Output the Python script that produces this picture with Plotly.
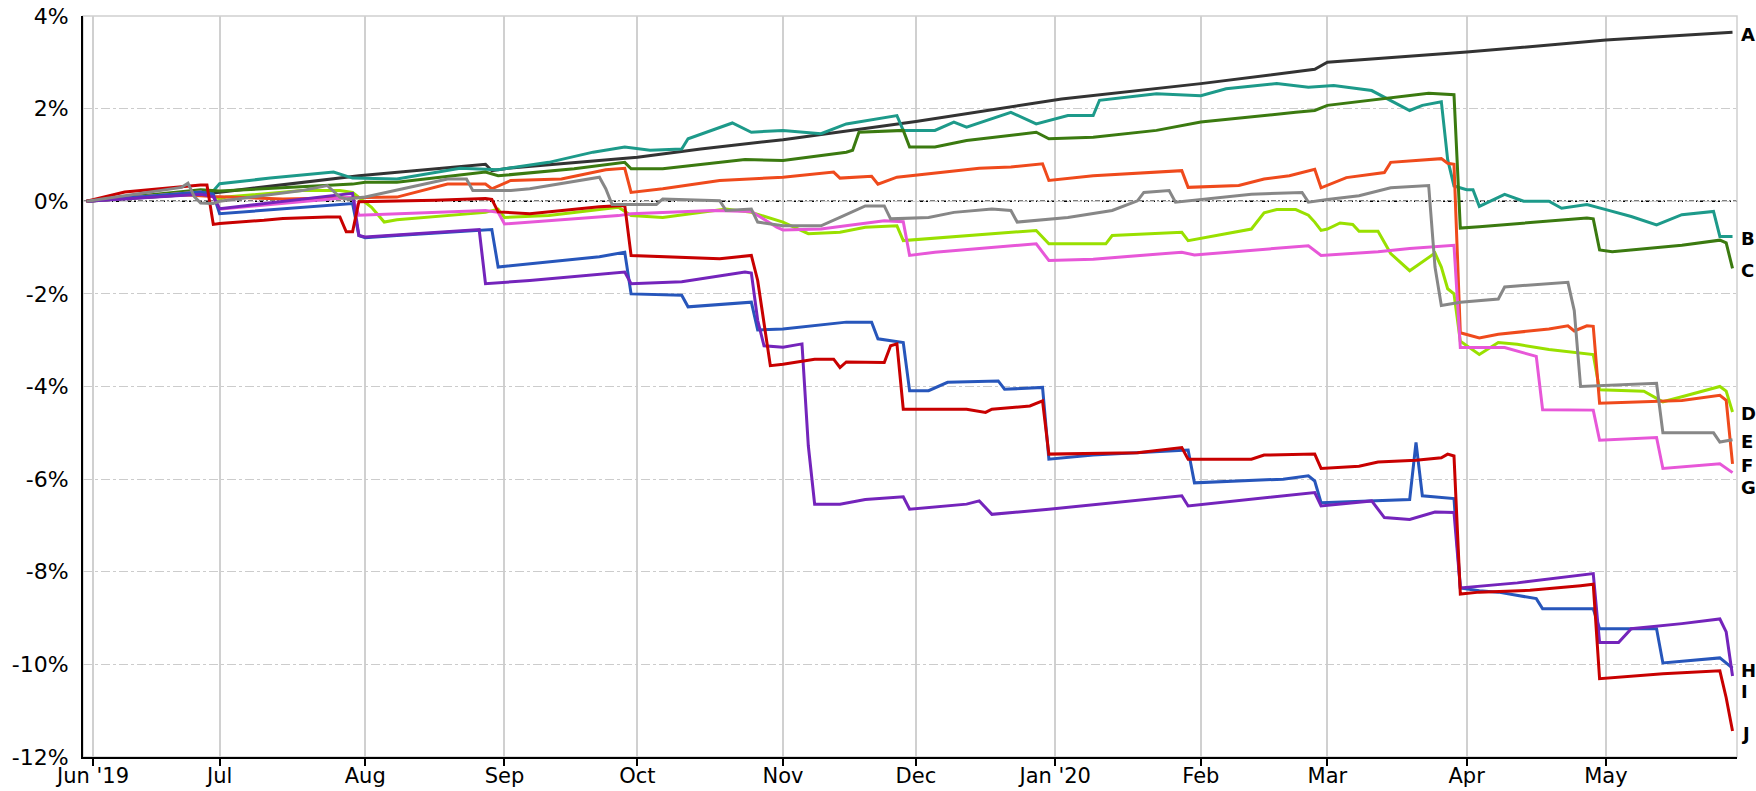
import plotly.graph_objects as go

# cumulative return (%) by date
a_dates = ["2019-05-31", "2019-06-28", "2019-07-31", "2019-08-27", "2019-08-28", "2019-08-29",
           "2019-09-03", "2019-10-01", "2019-10-15", "2019-11-01", "2019-12-02", "2020-01-02",
           "2020-02-03", "2020-02-27", "2020-03-02", "2020-04-01", "2020-05-01", "2020-05-29"]
a_vals = [0, 0.18, 0.55, 0.79, 0.8, 0.66, 0.72, 0.95, 1.13, 1.33, 1.72, 2.21,
          2.54, 2.85, 3.0, 3.22, 3.48, 3.65]

b_dates = ["2019-05-31", "2019-06-27", "2019-06-28", "2019-07-01", "2019-07-11", "2019-07-25",
           "2019-07-30", "2019-08-08", "2019-08-22", "2019-08-30", "2019-09-11", "2019-09-20",
           "2019-09-27", "2019-10-03", "2019-10-10", "2019-10-11", "2019-10-22", "2019-10-25",
           "2019-11-01", "2019-11-11", "2019-11-15", "2019-11-27", "2019-11-28", "2019-12-05",
           "2019-12-10", "2019-12-12", "2019-12-23", "2019-12-27", "2020-01-03", "2020-01-09",
           "2020-01-10", "2020-01-23", "2020-02-03", "2020-02-07", "2020-02-19", "2020-02-26",
           "2020-03-03", "2020-03-11", "2020-03-13", "2020-03-19", "2020-03-23", "2020-03-26",
           "2020-03-27", "2020-03-30", "2020-04-01", "2020-04-02", "2020-04-03", "2020-04-09",
           "2020-04-14", "2020-04-20", "2020-04-22", "2020-04-28", "2020-05-01", "2020-05-07",
           "2020-05-13", "2020-05-19", "2020-05-26", "2020-05-27", "2020-05-29"]
b_vals = [0, 0.2, 0.22, 0.38, 0.5, 0.63,
          0.5, 0.48, 0.71, 0.68, 0.84, 1.06,
          1.17, 1.1, 1.13, 1.35, 1.69, 1.49,
          1.53, 1.46, 1.67, 1.85, 1.53, 1.53,
          1.71, 1.6, 1.92, 1.67, 1.85, 1.85,
          2.18, 2.32, 2.28, 2.43, 2.54, 2.46,
          2.5, 2.39, 2.25, 1.96, 2.07, 2.15,
          0.9, 0.33, 0.25, 0.25, -0.11, 0.15,
          0.0, 0.0, -0.15, -0.07, -0.18, -0.33,
          -0.51, -0.29, -0.22, -0.76, -0.76]

c_dates = ["2019-05-31", "2019-06-26", "2019-07-01", "2019-07-30", "2019-08-01", "2019-08-08",
           "2019-08-28", "2019-08-30", "2019-09-17", "2019-09-27", "2019-09-30", "2019-10-07",
           "2019-10-24", "2019-11-01", "2019-11-15", "2019-11-18", "2019-11-19", "2019-11-28",
           "2019-11-29", "2019-12-05", "2019-12-12", "2019-12-27", "2019-12-31", "2020-01-09",
           "2020-01-23", "2020-02-03", "2020-02-24", "2020-02-27", "2020-03-02", "2020-03-13",
           "2020-03-24", "2020-03-30", "2020-03-31", "2020-04-03", "2020-04-28", "2020-04-29",
           "2020-04-30", "2020-05-04", "2020-05-11", "2020-05-19", "2020-05-27", "2020-05-28",
           "2020-05-29"]
c_vals = [0, 0.25, 0.22, 0.37, 0.41, 0.41,
          0.63, 0.55, 0.7, 0.84, 0.7, 0.7,
          0.9, 0.88, 1.06, 1.1, 1.49, 1.53,
          1.17, 1.17, 1.31, 1.49, 1.35, 1.38,
          1.53, 1.71, 1.92, 1.96, 2.07, 2.22,
          2.33, 2.3, -0.58, -0.55, -0.36, -0.38,
          -1.05, -1.09, -1.02, -0.95, -0.84, -0.9,
          -1.45]

d_dates = ["2019-05-31", "2019-06-26", "2019-07-01", "2019-07-02", "2019-07-18", "2019-07-26",
           "2019-07-30", "2019-08-02", "2019-08-06", "2019-08-08", "2019-08-28", "2019-08-30",
           "2019-09-02", "2019-09-11", "2019-09-26", "2019-09-30", "2019-10-07", "2019-10-21",
           "2019-10-25", "2019-11-01", "2019-11-07", "2019-11-14", "2019-11-20", "2019-11-27",
           "2019-11-28", "2019-12-19", "2019-12-27", "2019-12-31", "2020-01-13", "2020-01-14",
           "2020-01-29", "2020-01-30", "2020-02-13", "2020-02-17", "2020-02-19", "2020-02-24",
           "2020-02-26", "2020-02-27", "2020-02-28", "2020-03-02", "2020-03-04", "2020-03-06",
           "2020-03-09", "2020-03-12", "2020-03-16", "2020-03-19", "2020-03-23", "2020-03-25",
           "2020-03-26", "2020-03-27", "2020-03-30", "2020-03-31", "2020-04-03", "2020-04-08",
           "2020-04-13", "2020-04-20", "2020-04-29", "2020-04-30", "2020-05-11", "2020-05-14",
           "2020-05-19", "2020-05-27", "2020-05-28", "2020-05-29"]
d_vals = [0, 0.2, 0.05, 0.09, 0.23, 0.23,
          0.19, -0.13, -0.45, -0.4, -0.24, -0.17,
          -0.35, -0.31, -0.13, -0.31, -0.35, -0.17,
          -0.24, -0.45, -0.7, -0.67, -0.56, -0.53,
          -0.85, -0.7, -0.63, -0.92, -0.92, -0.74,
          -0.67, -0.85, -0.6, -0.25, -0.18, -0.18,
          -0.3, -0.45, -0.63, -0.6, -0.47, -0.5,
          -0.65, -0.65, -1.13, -1.5, -1.3, -1.12,
          -1.42, -1.89, -2.0, -3.02, -3.31, -3.05,
          -3.09, -3.2, -3.31, -4.07, -4.1, -4.33,
          -4.22, -4.0, -4.1, -4.55]

e_dates = ["2019-05-31", "2019-06-21", "2019-06-24", "2019-06-25", "2019-06-26", "2019-06-28",
           "2019-07-01", "2019-07-18", "2019-07-24", "2019-07-26", "2019-07-29", "2019-08-01",
           "2019-08-20", "2019-08-23", "2019-08-26", "2019-09-03", "2019-09-06", "2019-09-23",
           "2019-09-24", "2019-09-25", "2019-10-04", "2019-10-07", "2019-10-18", "2019-10-21",
           "2019-10-25", "2019-10-28", "2019-11-01", "2019-11-11", "2019-11-14", "2019-11-20",
           "2019-11-25", "2019-11-26", "2019-12-04", "2019-12-10", "2019-12-18", "2019-12-23",
           "2019-12-24", "2020-01-03", "2020-01-14", "2020-01-20", "2020-01-21", "2020-01-27",
           "2020-01-28", "2020-02-07", "2020-02-13", "2020-02-25", "2020-02-26", "2020-03-02",
           "2020-03-09", "2020-03-16", "2020-03-24", "2020-03-25", "2020-03-26", "2020-03-31",
           "2020-04-08", "2020-04-09", "2020-04-23", "2020-04-24", "2020-04-27", "2020-05-13",
           "2020-05-14", "2020-05-26", "2020-05-27", "2020-05-29"]
e_vals = [0, 0.3, 0.39, 0.1, -0.04, -0.05,
          0.0, 0.23, 0.34, 0.09, 0.05, 0.09,
          0.48, 0.48, 0.23, 0.23, 0.27, 0.52,
          0.27, -0.07, -0.07, 0.05, 0.01, -0.2,
          -0.17, -0.45, -0.53, -0.53, -0.35, -0.1,
          -0.1, -0.38, -0.35, -0.24, -0.17, -0.2,
          -0.45, -0.35, -0.2, 0.01, 0.19, 0.23,
          -0.02, 0.09, 0.15, 0.19, -0.02, 0.04,
          0.12, 0.29, 0.34, -1.42, -2.25, -2.18,
          -2.11, -1.85, -1.75, -2.36, -4.0, -3.93,
          -5.0, -5.0, -5.2, -5.15]

f_dates = ["2019-05-31", "2019-06-20", "2019-06-28", "2019-07-15", "2019-08-01", "2019-08-08",
           "2019-08-20", "2019-08-28", "2019-08-29", "2019-09-03", "2019-09-13", "2019-09-24",
           "2019-09-27", "2019-09-30", "2019-10-07", "2019-10-18", "2019-11-01", "2019-11-13",
           "2019-11-14", "2019-11-21", "2019-11-22", "2019-11-27", "2019-12-16", "2019-12-23",
           "2019-12-30", "2019-12-31", "2020-01-09", "2020-01-29", "2020-01-30", "2020-02-11",
           "2020-02-17", "2020-02-21", "2020-02-27", "2020-02-28", "2020-03-05", "2020-03-13",
           "2020-03-16", "2020-03-24", "2020-03-26", "2020-03-27", "2020-03-30", "2020-03-31",
           "2020-04-03", "2020-04-08", "2020-04-20", "2020-04-23", "2020-04-24", "2020-04-28",
           "2020-04-29", "2020-04-30", "2020-05-19", "2020-05-27", "2020-05-28", "2020-05-29"]
f_vals = [0, 0.15, 0.1, 0.05, 0.08, 0.09,
          0.37, 0.37, 0.27, 0.45, 0.48, 0.68,
          0.71, 0.19, 0.27, 0.45, 0.52, 0.63,
          0.5, 0.54, 0.37, 0.52, 0.71, 0.74,
          0.81, 0.45, 0.55, 0.66, 0.3, 0.34,
          0.48, 0.55, 0.69, 0.29, 0.51, 0.62,
          0.84, 0.91, 0.92, 0.82, 0.8, -2.84,
          -2.95, -2.87, -2.76, -2.69, -2.8, -2.69,
          -2.7, -4.36, -4.3, -4.19, -4.3, -5.67]

g_dates = ["2019-05-31", "2019-06-26", "2019-06-28", "2019-07-01", "2019-07-30", "2019-07-31",
           "2019-08-28", "2019-08-30", "2019-09-02", "2019-09-26", "2019-09-30", "2019-10-17",
           "2019-10-25", "2019-10-31", "2019-11-01", "2019-11-11", "2019-11-25", "2019-11-28",
           "2019-11-29", "2019-12-05", "2019-12-27", "2019-12-31", "2020-01-09", "2020-01-29",
           "2020-01-31", "2020-02-26", "2020-02-28", "2020-03-12", "2020-03-19", "2020-03-30",
           "2020-03-31", "2020-04-09", "2020-04-16", "2020-04-17", "2020-04-29", "2020-04-30",
           "2020-05-13", "2020-05-14", "2020-05-27", "2020-05-29"]
g_vals = [0, 0.2, 0.1, -0.17, 0.09, -0.3,
          -0.2, -0.24, -0.49, -0.31, -0.27, -0.2,
          -0.22, -0.56, -0.62, -0.6, -0.42, -0.44,
          -1.17, -1.1, -0.92, -1.28, -1.25, -1.1,
          -1.16, -0.96, -1.17, -1.09, -1.02, -0.95,
          -3.16, -3.16, -3.35, -4.5, -4.51, -5.16,
          -5.1, -5.77, -5.67, -5.86]

h_dates = ["2019-05-31", "2019-06-26", "2019-06-28", "2019-07-01", "2019-07-30", "2019-07-31",
           "2019-08-01", "2019-08-08", "2019-08-29", "2019-08-30", "2019-09-23", "2019-09-27",
           "2019-09-30", "2019-10-10", "2019-10-11", "2019-10-25", "2019-10-28", "2019-11-01",
           "2019-11-15", "2019-11-21", "2019-11-22", "2019-11-28", "2019-11-29", "2019-12-04",
           "2019-12-09", "2019-12-19", "2019-12-20", "2019-12-30", "2019-12-31", "2020-01-09",
           "2020-01-30", "2020-01-31", "2020-02-20", "2020-02-26", "2020-02-27", "2020-02-28",
           "2020-03-19", "2020-03-20", "2020-03-23", "2020-03-30", "2020-03-31", "2020-04-03",
           "2020-04-08", "2020-04-16", "2020-04-17", "2020-04-29", "2020-04-30", "2020-05-13",
           "2020-05-14", "2020-05-27", "2020-05-29"]
h_vals = [0, 0.2, 0.15, -0.27, -0.05, -0.74,
          -0.79, -0.74, -0.61, -1.42, -1.2, -1.1,
          -2.0, -2.03, -2.28, -2.18, -2.78, -2.76,
          -2.61, -2.61, -2.97, -3.05, -4.09, -4.09,
          -3.91, -3.88, -4.06, -4.02, -5.57, -5.48,
          -5.37, -6.08, -6.0, -5.93, -6.04, -6.51,
          -6.44, -5.21, -6.36, -6.42, -8.35, -8.41,
          -8.44, -8.58, -8.8, -8.8, -9.23, -9.23,
          -9.97, -9.86, -10.08]

i_dates = ["2019-05-31", "2019-06-26", "2019-06-28", "2019-07-01", "2019-07-30", "2019-07-31",
           "2019-08-01", "2019-08-27", "2019-08-28", "2019-09-06", "2019-09-27", "2019-09-30",
           "2019-10-10", "2019-10-24", "2019-10-25", "2019-10-28", "2019-10-29", "2019-11-01",
           "2019-11-06", "2019-11-07", "2019-11-08", "2019-11-14", "2019-11-20", "2019-11-28",
           "2019-11-29", "2019-12-12", "2019-12-16", "2019-12-18", "2019-12-31", "2020-01-29",
           "2020-01-30", "2020-02-27", "2020-02-28", "2020-03-11", "2020-03-13", "2020-03-19",
           "2020-03-25", "2020-03-30", "2020-03-31", "2020-04-13", "2020-04-29", "2020-04-30",
           "2020-05-05", "2020-05-07", "2020-05-19", "2020-05-27", "2020-05-28", "2020-05-29"]
i_vals = [0, 0.15, 0.1, -0.16, 0.17, -0.74,
          -0.77, -0.61, -1.78, -1.71, -1.53, -1.78,
          -1.74, -1.53, -1.55, -2.57, -3.12, -3.15,
          -3.08, -5.28, -6.54, -6.54, -6.44, -6.38,
          -6.65, -6.54, -6.47, -6.76, -6.65, -6.36,
          -6.58, -6.29, -6.58, -6.47, -6.83, -6.87,
          -6.71, -6.72, -8.35, -8.24, -8.04, -9.53,
          -9.53, -9.23, -9.12, -9.02, -9.3, -10.25]

j_dates = ["2019-05-31", "2019-06-10", "2019-06-26", "2019-06-27", "2019-06-28", "2019-07-01",
           "2019-07-10", "2019-07-15", "2019-07-24", "2019-07-26", "2019-07-29", "2019-07-30",
           "2019-07-31", "2019-08-16", "2019-08-28", "2019-08-29", "2019-08-30", "2019-09-06",
           "2019-09-23", "2019-09-27", "2019-09-30", "2019-10-07", "2019-10-18", "2019-10-25",
           "2019-10-28", "2019-10-30", "2019-11-01", "2019-11-08", "2019-11-13", "2019-11-14",
           "2019-11-15", "2019-11-25", "2019-11-26", "2019-11-27", "2019-11-28", "2019-12-12",
           "2019-12-17", "2019-12-18", "2019-12-26", "2019-12-30", "2019-12-31", "2020-01-20",
           "2020-01-29", "2020-01-30", "2020-02-13", "2020-02-17", "2020-02-27", "2020-02-28",
           "2020-03-09", "2020-03-12", "2020-03-20", "2020-03-26", "2020-03-27", "2020-03-30",
           "2020-03-31", "2020-04-03", "2020-04-15", "2020-04-27", "2020-04-29", "2020-04-30",
           "2020-05-04", "2020-05-14", "2020-05-27", "2020-05-28", "2020-05-29"]
j_vals = [0, 0.2, 0.35, 0.35, -0.5, -0.48,
          -0.41, -0.37, -0.34, -0.34, -0.66, -0.66,
          -0.01, 0.02, 0.06, 0.04, -0.23, -0.27,
          -0.12, -0.09, -1.17, -1.2, -1.24, -1.17,
          -1.71, -3.55, -3.52, -3.41, -3.41, -3.59,
          -3.47, -3.48, -3.12, -3.08, -4.49, -4.49,
          -4.56, -4.49, -4.42, -4.31, -5.46, -5.43,
          -5.32, -5.57, -5.57, -5.48, -5.46, -5.77,
          -5.72, -5.63, -5.59, -5.54, -5.46, -5.5,
          -8.48, -8.44, -8.4, -8.3, -8.27, -10.31,
          -10.29, -10.2, -10.14, -10.72, -11.44]

names = ["A", "B", "C", "D", "E", "F", "G", "H", "I", "J"]
colors = ["#333333", "#1d9a8a", "#3b7a10", "#99e000", "#878787",
          "#ef4a1c", "#e757d8", "#2756bb", "#7424bb", "#c80000"]

tick_dates = ["2019-06-03", "2019-07-01", "2019-08-01", "2019-09-02", "2019-10-01", "2019-11-01",
              "2019-12-02", "2020-01-01", "2020-02-03", "2020-03-02", "2020-04-01", "2020-05-01"]
tick_text = ["Jun '19", "Jul", "Aug", "Sep", "Oct", "Nov",
             "Dec", "Jan '20", "Feb", "Mar", "Apr", "May"]
y_ticks = [4, 2, 0, -2, -4, -6, -8, -10, -12]

series = [(a_dates, a_vals), (b_dates, b_vals), (c_dates, c_vals), (d_dates, d_vals),
          (e_dates, e_vals), (f_dates, f_vals), (g_dates, g_vals), (h_dates, h_vals),
          (i_dates, i_vals), (j_dates, j_vals)]

FONT = "DejaVu Sans"

fig = go.Figure()

# draw order: gray on top of the early tangle, red over blue
order = [0, 1, 2, 3, 5, 6, 7, 8, 9, 4]
for k in order:
    dts, vals = series[k]
    fig.add_trace(go.Scatter(
        x=dts, y=vals, mode="lines", name=names[k],
        line=dict(color=colors[k], width=3),
        showlegend=False,
    ))

# zero line, dash-dot
fig.add_shape(type="line", xref="paper", x0=0, x1=1, yref="y", y0=0, y1=0,
              line=dict(color="black", width=1.5, dash="5px,2px,2px,2px"), layer="between")
# light frame on top / right
fig.add_shape(type="rect", xref="paper", yref="paper", x0=0, x1=1, y0=0, y1=1,
              line=dict(color="#cfcfcf", width=1.5), layer="below")

# end labels, nudged apart so they don't overlap
last = [s[1][-1] for s in series]
label_y = []
prev = None
for v in last:
    y = v if prev is None else min(v, prev - 0.46)
    label_y.append(y)
    prev = y
for k, name in enumerate(names):
    fig.add_annotation(xref="paper", x=1, y=label_y[k], text="<b>%s</b>" % name,
                       showarrow=False, xanchor="left", yanchor="middle", xshift=3, yshift=-2,
                       borderpad=0, font=dict(family=FONT, size=18, color="black"))

fig.update_layout(
    width=1756, height=791,
    margin=dict(l=83, r=19, t=16, b=34),
    plot_bgcolor="white", paper_bgcolor="white",
    font=dict(family=FONT, size=22, color="black"),
)
fig.update_xaxes(
    type="date",
    range=["2019-05-30 10:00", "2020-05-29 17:00"],
    rangebreaks=[dict(bounds=["sat", "mon"])],
    tickmode="array", tickvals=tick_dates, ticktext=tick_text,
    showgrid=True, gridcolor="#d0d0d0", gridwidth=1.5,
    showline=True, linecolor="black", linewidth=2,
    ticks="outside", ticklen=7, tickwidth=1.5, tickcolor="black",
    ticklabelstandoff=-8,
    tickfont=dict(family=FONT, size=21),
    zeroline=False, automargin=False,
)
fig.update_yaxes(
    range=[-12, 4],
    tickmode="array", tickvals=y_ticks, ticktext=["%d%%" % t for t in y_ticks],
    showgrid=True, gridcolor="#cccccc", gridwidth=1, griddash="dashdot",
    showline=True, linecolor="black", linewidth=2,
    ticks="", ticklabelstandoff=8,
    tickfont=dict(family=FONT, size=22),
    zeroline=False, automargin=False,
)

fig.write_html("out.html", config={"displayModeBar": False},
               post_script="document.body.style.margin='0px';document.body.style.overflow='hidden';")
